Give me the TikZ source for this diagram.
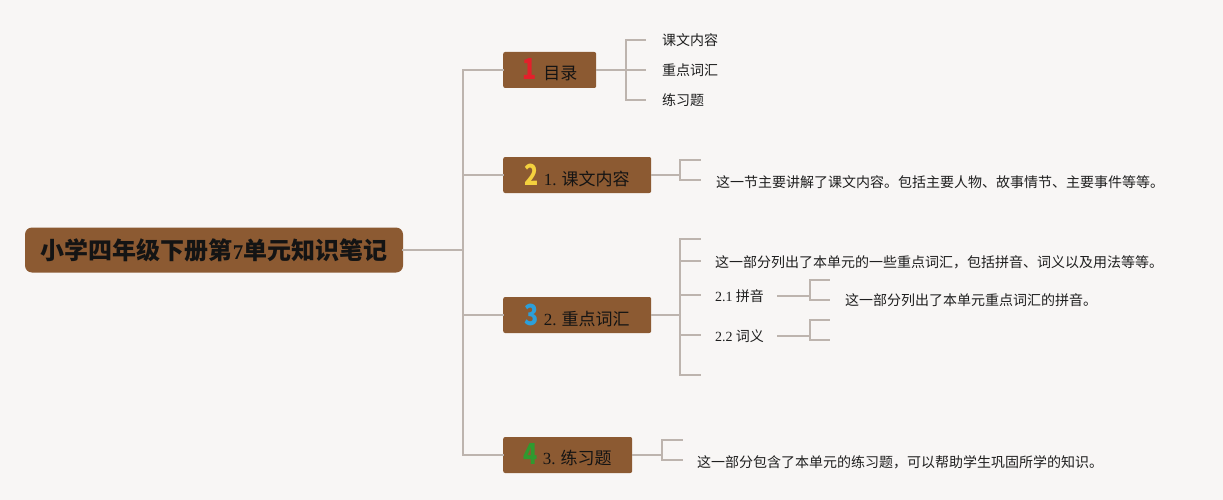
\documentclass[tikz,border=0pt]{standalone}
\usepackage{fontspec}
\usepackage{graphicx}
\setmainfont{Noto Sans CJK SC}
\newfontfamily\latn{Liberation Serif}
\usetikzlibrary{positioning}
\definecolor{bgPaper}{HTML}{F8F6F5}
\definecolor{boxBrown}{HTML}{8C5A32}
\definecolor{linkGray}{HTML}{BDB4AE}
\definecolor{numRed}{HTML}{E3202B}
\definecolor{numYellow}{HTML}{F4D13E}
\definecolor{numBlue}{HTML}{2C9FDA}
\definecolor{numGreen}{HTML}{2F9A2F}
\newcommand{\topicnum}[2]{{\fontsize{29}{29}\selectfont\bfseries\textcolor{#1}{\scalebox{0.8}[1]{#2}}}}
\tikzset{
  rootbox/.style={
    fill=boxBrown, rounded corners=7pt, inner sep=0pt,
    minimum width=378pt, minimum height=45pt,
    font=\fontsize{24}{24}\selectfont\bfseries, text=black!92
  },
  topicbox/.style={
    fill=boxBrown, rounded corners=2pt, inner sep=0pt, anchor=west,
    minimum width=#1, minimum height=36pt,
    font=\fontsize{17}{17}\selectfont, text=black!92
  },
  leaf/.style={inner sep=0pt, anchor=west, font=\fontsize{14}{14}\selectfont, text=black!88},
  link/.style={draw=linkGray, line width=1.5pt, line cap=rect}
}

\begin{document}
\begin{tikzpicture}[x=1pt, y=-1pt]

\fill[bgPaper] (0,0) rectangle (1223,500);
\useasboundingbox (0,0) rectangle (1223,500);

\node[rootbox] (root) at (214,250) {小学四年级下册第{\latn\bfseries\fontsize{21}{21}\selectfont 7}单元知识笔记};

\node[topicbox=93pt] (t1) at (503,70) {\topicnum{numRed}{1}\hspace{7pt}目录};
\node[topicbox=148pt] (t2) at (503,175) {\topicnum{numYellow}{2}\hspace{5pt}{\latn 1.} 课文内容};
\node[topicbox=148pt] (t3) at (503,315) {\topicnum{numBlue}{3}\hspace{5pt}{\latn 2.} 重点词汇};
\node[topicbox=129pt] (t4) at (503,455) {\topicnum{numGreen}{4}\hspace{5pt}{\latn 3.} 练习题};

% trunk
\coordinate (trunk) at (463,250);
\draw[link] (root.east) -- (trunk);
\draw[link] (trunk |- t1.west) -- (trunk |- t4.west);
\foreach \t in {t1,t2,t3,t4}
  \draw[link] (trunk |- \t.west) -- (\t.west);

% 1 目录
\node[leaf] (k1) at (662,40) {课文内容};
\node[leaf] (k2) at (662,70) {重点词汇};
\node[leaf] (k3) at (662,100) {练习题};
\coordinate (b1) at (626,70);
\draw[link] (t1.east) -- (b1);
\draw[link] (b1 |- k1.west) -- (b1 |- k3.west);
\foreach \k in {k1,k2,k3}
  \draw[link] (b1 |- \k.west) -- ([xshift=-17pt]\k.west);

% 2 课文内容
\node[leaf] (d2) at (716,182) {这一节主要讲解了课文内容。包括主要人物、故事情节、主要事件等等。};
\coordinate (b2) at (680,175);
\draw[link] (t2.east) -- (b2);
\draw[link] (680,160) -- (680,180);
\foreach \y in {160,180}
  \draw[link] (680,\y) -- (700,\y);

% 3 重点词汇
\node[leaf] (d3) at (715,262) {这一部分列出了本单元的一些重点词汇，包括拼音、词义以及用法等等。};
\node[leaf] (s1) at (715,296) {{\latn 2.1} 拼音};
\node[leaf] (s2) at (715,336) {{\latn 2.2} 词义};
\coordinate (b3) at (680,315);
\draw[link] (t3.east) -- (b3);
\draw[link] (680,239) -- (680,375);
\foreach \y in {239,261,295,335,375}
  \draw[link] (680,\y) -- (700,\y);

\node[leaf] (d31) at (845,300) {这一部分列出了本单元重点词汇的拼音。};
\coordinate (c1) at (810,296);
\coordinate (c2) at (810,336);
\draw[link] ([xshift=14pt]s1.east) -- (c1);
\draw[link] ([xshift=14pt]s2.east) -- (c2);
\draw[link] (810,280) -- (810,300);
\draw[link] (810,320) -- (810,340);
\foreach \y in {280,300,320,340}
  \draw[link] (810,\y) -- (829,\y);

% 4 练习题
\node[leaf] (d4) at (697,462) {这一部分包含了本单元的练习题，可以帮助学生巩固所学的知识。};
\coordinate (b4) at (662,455);
\draw[link] (t4.east) -- (b4);
\draw[link] (662,440) -- (662,460);
\foreach \y in {440,460}
  \draw[link] (662,\y) -- (682,\y);

\end{tikzpicture}
\end{document}
